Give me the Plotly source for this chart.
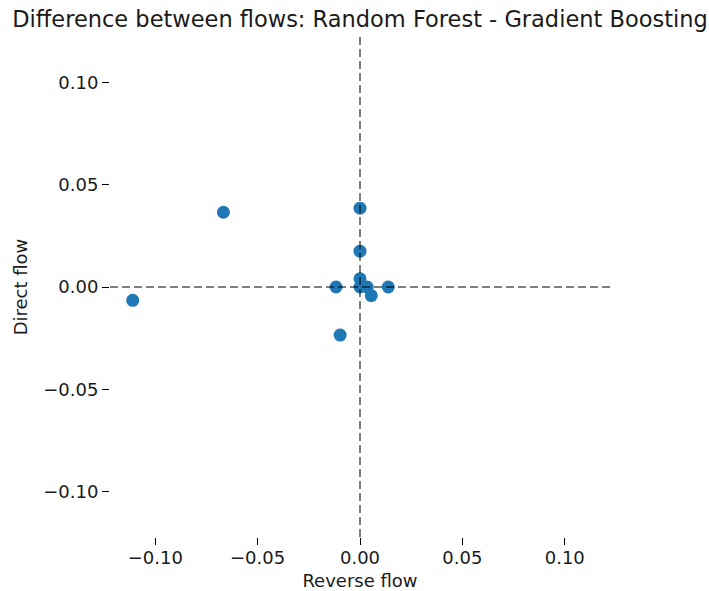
import plotly.graph_objects as go

# Differences in flow importance (Random Forest minus Gradient Boosting)
reverse_flow = [-0.1110, -0.0667, 0.0, 0.0, 0.0, 0.0, -0.0117, 0.0138, 0.0035, 0.0055, -0.0097]
direct_flow = [-0.0065, 0.0365, 0.0385, 0.0175, 0.0040, 0.0, 0.0, 0.0, 0.0, -0.0042, -0.0235]
tick_values = [-0.10, -0.05, 0.00, 0.05, 0.10]

lim = 1.1 * max(max(abs(v) for v in reverse_flow), max(abs(v) for v in direct_flow))

font = "DejaVu Sans"

fig = go.Figure()
fig.add_trace(go.Scatter(
    x=reverse_flow, y=direct_flow, mode="markers",
    marker=dict(color="#1f77b4", size=13, line=dict(width=0)),
    showlegend=False,
))

# reference lines at zero, drawn over the markers
dash_line = dict(color="rgba(0,0,0,0.5)", width=2, dash="8px,4px")
fig.add_shape(type="line", xref="paper", yref="y", x0=0, x1=1, y0=0, y1=0,
              line=dash_line, layer="above")
fig.add_shape(type="line", xref="x", yref="paper", x0=0, x1=0, y0=0, y1=1,
              line=dash_line, layer="above")

axis_common = dict(
    showgrid=False, zeroline=False, showline=False, automargin=False,
    ticks="outside", ticklen=7, tickwidth=1, tickcolor="black",
    tickvals=tick_values, tickformat=".2f",
    tickfont=dict(family=font, size=18, color="#1a1a1a"),
    range=[-lim, lim],
)

fig.update_layout(
    width=709, height=591,
    margin=dict(l=110, r=99, t=37, b=54),
    paper_bgcolor="white", plot_bgcolor="white",
    font=dict(family=font, color="#1a1a1a"),
    title=dict(
        text="Difference between flows: Random Forest - Gradient Boosting",
        x=0.5, xref="paper", xanchor="center",
        y=1 - 19 / 591, yref="container", yanchor="middle",
        font=dict(family=font, size=22.5, color="#1a1a1a"),
    ),
    xaxis=dict(**axis_common, ticklabelstandoff=-3,
               title=dict(text="Reverse flow", font=dict(family=font, size=18), standoff=8)),
    yaxis=dict(**axis_common,
               title=dict(text="Direct flow", font=dict(family=font, size=18), standoff=10)),
)

fig.write_html("out.html")
